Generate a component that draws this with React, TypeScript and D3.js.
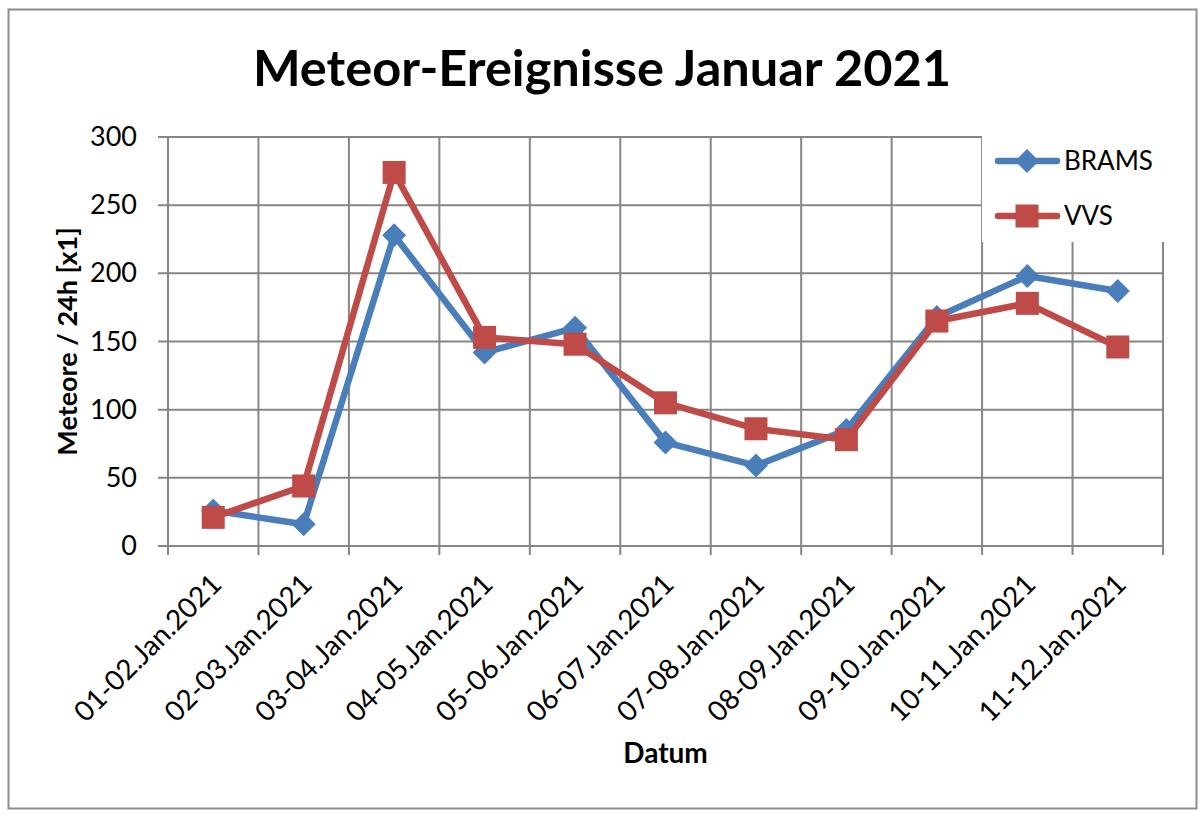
import * as d3 from "d3";

const categories = [
  "01-02.Jan.2021",
  "02-03.Jan.2021",
  "03-04.Jan.2021",
  "04-05.Jan.2021",
  "05-06.Jan.2021",
  "06-07.Jan.2021",
  "07-08.Jan.2021",
  "08-09.Jan.2021",
  "09-10.Jan.2021",
  "10-11.Jan.2021",
  "11-12.Jan.2021",
];
const brams = [26, 16, 228, 142, 160, 76, 59, 85, 168, 198, 187];
const vvs = [21, 44, 274, 153, 148, 105, 86, 78, 165, 178, 146];
const yTicks = [0, 50, 100, 150, 200, 250, 300];

const W = 1203;
const H = 815;
const plot = { left: 168, right: 1163, top: 137, bottom: 546 };
const font = "Lato, 'Open Sans', sans-serif";
const gridColor = "#868686";
const blue = "#4a7ebb";
const red = "#be4b48";

export default function App() {
  const x = d3
    .scaleBand<string>()
    .domain(categories)
    .range([plot.left, plot.right])
    .padding(0);
  const y = d3.scaleLinear().domain([0, 300]).range([plot.bottom, plot.top]);
  const cx = (c: string) => (x(c) ?? 0) + x.bandwidth() / 2;

  const line = d3
    .line<number>()
    .x((_, i) => cx(categories[i]))
    .y((d) => y(d));

  const edges = categories.map((c) => x(c) ?? 0).concat([plot.right]);

  const legend = { x: 982, y: plot.top, w: 195, h: 106 };

  const diamond = (px: number, py: number, r: number) =>
    `M${px},${py - r}L${px + r},${py}L${px},${py + r}L${px - r},${py}Z`;

  return (
    <div style={{ position: "absolute", left: 0, top: 0 }}>
      <svg width={W} height={H} style={{ display: "block", fontFamily: font }}>
        <rect x={0} y={0} width={W} height={H} fill="#fff" />
        <rect x={8.5} y={9.5} width={1188} height={799} fill="none" stroke="#8c8c8c" strokeWidth={2} />

        <text x={602} y={86} textAnchor="middle" fontSize={50.5} fontWeight={700}>
          Meteor-Ereignisse Januar 2021
        </text>

        {/* horizontal grid + y ticks */}
        {yTicks.map((t) => (
          <line
            key={t}
            x1={plot.left - 10}
            x2={plot.right}
            y1={y(t)}
            y2={y(t)}
            stroke={gridColor}
            strokeWidth={2}
          />
        ))}
        {/* vertical grid + x ticks */}
        {edges.map((e, i) => (
          <line
            key={i}
            x1={e}
            x2={e}
            y1={plot.top}
            y2={plot.bottom + 9}
            stroke={gridColor}
            strokeWidth={2}
          />
        ))}

        {yTicks.map((t) => (
          <text key={t} x={137} y={y(t) + 9} textAnchor="end" fontSize={27}>
            {t}
          </text>
        ))}

        {categories.map((c) => (
          <text
            key={c}
            transform={`translate(${cx(c) + 10},${plot.bottom + 40}) rotate(-45)`}
            textAnchor="end"
            fontSize={28}
          >
            {c}
          </text>
        ))}

        <text
          transform={`translate(77,${(plot.top + plot.bottom) / 2}) rotate(-90)`}
          textAnchor="middle"
          fontSize={27}
          fontWeight={700}
        >
          Meteore / 24h [x1]
        </text>
        <text x={(plot.left + plot.right) / 2} y={763} textAnchor="middle" fontSize={28} fontWeight={700}>
          Datum
        </text>

        <path d={line(brams) ?? ""} fill="none" stroke={blue} strokeWidth={6.5} strokeLinejoin="round" />
        {brams.map((v, i) => (
          <path key={i} d={diamond(cx(categories[i]), y(v), 12)} fill={blue} />
        ))}
        <path d={line(vvs) ?? ""} fill="none" stroke={red} strokeWidth={6.5} strokeLinejoin="round" />
        {vvs.map((v, i) => (
          <rect key={i} x={cx(categories[i]) - 11.5} y={y(v) - 11.5} width={23} height={23} fill={red} />
        ))}

        {/* legend */}
        <rect x={legend.x} y={legend.y - 1} width={legend.w} height={legend.h} fill="#fff" />
        <line x1={998} x2={1057} y1={161} y2={161} stroke={blue} strokeWidth={6.5} strokeLinecap="round" />
        <path d={diamond(1027, 161, 12)} fill={blue} />
        <text x={1064} y={170} fontSize={26}>
          BRAMS
        </text>
        <line x1={998} x2={1057} y1={216} y2={216} stroke={red} strokeWidth={6.5} strokeLinecap="round" />
        <rect x={1027 - 11.5} y={216 - 11.5} width={23} height={23} fill={red} />
        <text x={1064} y={225} fontSize={26}>
          VVS
        </text>
      </svg>
    </div>
  );
}
